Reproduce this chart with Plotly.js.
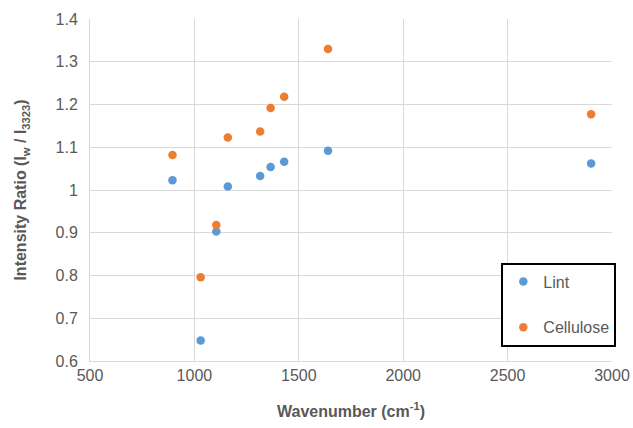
<!DOCTYPE html>
<html>
<head>
<meta charset="utf-8">
<script src="https://cdn.plot.ly/plotly-3.0.1.min.js"></script>
<style>html,body{margin:0;padding:0;background:#fff;}#chart{width:633px;height:428px;}</style>
</head>
<body>
<div id="chart"></div>
<script>
const wavenumbers = [895, 1030, 1105, 1160, 1315, 1365, 1430, 1640, 2900];
const lintValues = [1.023, 0.648, 0.903, 1.008, 1.033, 1.054, 1.066, 1.092, 1.062];
const celluloseValues = [1.082, 0.796, 0.918, 1.123, 1.137, 1.192, 1.218, 1.330, 1.177];
const seriesNames = ["Lint", "Cellulose"];
const xTicks = [500, 1000, 1500, 2000, 2500, 3000];
const yTicks = [0.6, 0.7, 0.8, 0.9, 1, 1.1, 1.2, 1.3, 1.4];

const font = {family: "Liberation Sans, Arial, sans-serif", color: "#595959"};
const traces = [
  {x: wavenumbers, y: lintValues, name: seriesNames[0], type: "scatter", mode: "markers",
   legendgroup: "a", marker: {color: "#5B9BD5", size: 8.5}},
  {x: wavenumbers, y: celluloseValues, name: seriesNames[1], type: "scatter", mode: "markers",
   legendgroup: "b", marker: {color: "#ED7D31", size: 8.5}}
];
const layout = {
  width: 633, height: 428,
  margin: {l: 90, r: 21, t: 19, b: 67},
  paper_bgcolor: "#fff", plot_bgcolor: "#fff",
  font: Object.assign({size: 16}, font),
  showlegend: true,
  legend: {x: 0.788, y: 0.288, xanchor: "left", yanchor: "top", bgcolor: "#fff",
    bordercolor: "#000", borderwidth: 2, traceorder: "grouped", tracegroupgap: 22,
    itemwidth: 30,
    font: Object.assign({size: 16}, font)},
  xaxis: {range: [500, 3000], tickvals: xTicks, ticktext: xTicks.map(String),
    showgrid: true, gridcolor: "#d9d9d9", gridwidth: 1, zeroline: false,
    showline: true, linecolor: "#d9d9d9", mirror: false, ticks: "",
    tickfont: Object.assign({size: 16}, font),
    title: {text: "<b>Wavenumber (cm<sup>-1</sup>)</b>", font: Object.assign({size: 16}, font), standoff: 22}},
  yaxis: {range: [0.6, 1.4], tickvals: yTicks, ticktext: yTicks.map(v => String(v)),
    showgrid: true, gridcolor: "#d9d9d9", gridwidth: 1, zeroline: false,
    showline: true, linecolor: "#d9d9d9", ticks: "", ticklabelstandoff: 8,
    tickfont: Object.assign({size: 16}, font),
    title: {text: "<b>Intensity Ratio (I<sub>w</sub> / I<sub>3323</sub>)</b>", font: Object.assign({size: 16}, font), standoff: 24}}
};
Plotly.newPlot("chart", traces, layout, {displayModeBar: false, staticPlot: true});
</script>
</body>
</html>
